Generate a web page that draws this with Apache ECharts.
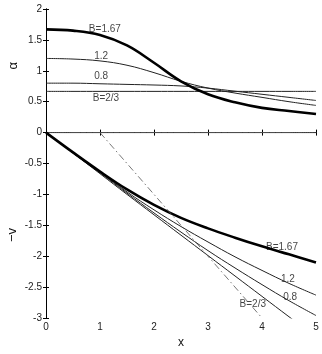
<!DOCTYPE html>
<html>
<head>
<meta charset="utf-8">
<script src="https://cdn.jsdelivr.net/npm/echarts@6/dist/echarts.min.js"></script>
<style>
  html, body { margin: 0; padding: 0; background: #fff; }
  #main { width: 322px; height: 354px; }
</style>
</head>
<body>
<div id="main"></div>
<script>
  // x positions
  var xs = [0, 0.5, 1, 1.5, 2, 2.5, 3, 3.5, 4, 4.5, 5];
  // alpha curves
  var alpha167 = [1.67, 1.65, 1.58, 1.41, 1.13, 0.83, 0.62, 0.49, 0.40, 0.35, 0.30];
  var alpha12 = [1.20, 1.19, 1.16, 1.09, 0.97, 0.83, 0.72, 0.64, 0.57, 0.50, 0.44];
  var alpha08 = [0.80, 0.80, 0.79, 0.78, 0.77, 0.755, 0.72, 0.67, 0.62, 0.57, 0.52];
  var alpha23 = [0.667, 0.667, 0.667, 0.667, 0.667, 0.667, 0.667, 0.667, 0.667, 0.667, 0.667];
  // -v curves
  var v167 = [0, -0.32, -0.63, -0.92, -1.17, -1.38, -1.55, -1.70, -1.84, -1.97, -2.10];
  var v12 = [0, -0.32, -0.64, -0.96, -1.25, -1.52, -1.77, -2.01, -2.23, -2.44, -2.63];
  var v08 = [0, -0.33, -0.65, -0.98, -1.30, -1.61, -1.91, -2.19, -2.46, -2.72, -2.96];
  var v23 = [0, -0.33, -0.665, -1.0, -1.33, -1.66, -1.99, -2.32, -2.65, -2.98, -3.31];
  var zeroLine = [0, 0, 0, 0, 0, 0, 0, 0, 0, 0, 0];
  // dash-dot reference line -v = 1 - x
  var refX = [1, 4];
  var refY = [0, -3];
  // curve labels
  var labelX = [1.09, 1.02, 1.02, 1.11, 4.37, 4.48, 4.52, 3.83];
  var labelY = [1.68, 1.24, 0.91, 0.56, -1.85, -2.37, -2.67, -2.78];
  var labelText = ['B=1.67', '1.2', '0.8', 'B=2/3', 'B=1.67', '1.2', '0.8', 'B=2/3'];

  function pairs(xv, yv) {
    return xv.map(function (x, i) { return [x, yv[i]]; });
  }

  var font = 'Liberation Sans';

  function curve(yv, thick, color) {
    return {
      type: 'line',
      data: pairs(xs, yv),
      smooth: 0.4,
      showSymbol: false,
      symbol: 'none',
      silent: true,
      lineStyle: { color: color || '#111', width: thick ? 2.6 : 1 }
    };
  }

  var chart = echarts.init(document.getElementById('main'));
  var axisX = {
    type: 'value', min: 0, max: 5, interval: 1,
    axisLine: { show: true, lineStyle: { color: '#000', width: 1 } },
    axisTick: { show: true, inside: true, length: 3, lineStyle: { color: '#000' } },
    splitLine: { show: false }
  };
  var axisY = {
    type: 'value', min: -3, max: 2, interval: 0.5,
    axisLine: { show: true, lineStyle: { color: '#000', width: 1 } },
    axisTick: { show: true, inside: true, length: 3, lineStyle: { color: '#000' } },
    splitLine: { show: false }
  };

  var option = {
    animation: false,
    grid: { left: 46, right: 6, top: 9, bottom: 28 },
    xAxis: [
      Object.assign({}, axisX, {
        position: 'bottom',
        name: 'x', nameLocation: 'middle', nameGap: 19,
        nameTextStyle: { fontFamily: font, fontSize: 12, color: '#111' },
        axisLabel: { fontFamily: font, fontSize: 10, color: '#222', margin: 4 }
      }),
      Object.assign({}, axisX, { position: 'top', axisLabel: { show: false } })
    ],
    yAxis: [
      Object.assign({}, axisY, {
        position: 'left',
        axisLabel: { fontFamily: font, fontSize: 10, color: '#222', margin: 4 }
      }),
      Object.assign({}, axisY, { position: 'right', axisLabel: { show: false } })
    ],
    graphic: [
      { type: 'text', left: 7, top: 62, rotation: Math.PI / 2,
        style: { text: 'α', font: '13px ' + font, fill: '#111' } },
      { type: 'text', left: 6, top: 228, rotation: Math.PI / 2,
        style: { text: '−v', font: '13px ' + font, fill: '#111' } }
    ],
    series: [
      curve(zeroLine, false, '#555'),
      curve(alpha23, false, '#222'),
      curve(alpha08, false, '#222'),
      curve(alpha12, false, '#222'),
      curve(alpha167, true, '#000'),
      curve(v23, false, '#222'),
      curve(v08, false, '#222'),
      curve(v12, false, '#222'),
      curve(v167, true, '#000'),
      {
        type: 'line',
        data: pairs(refX, refY),
        showSymbol: false,
        symbol: 'none',
        lineStyle: { color: '#555', width: 0.8, type: [7, 3, 1.5, 3] }
      },
      {
        type: 'scatter',
        symbolSize: 0,
        silent: true,
        data: labelX.map(function (x, i) { return { value: [x, labelY[i]], name: labelText[i] }; }),
        label: {
          show: true, position: 'inside', formatter: '{b}',
          fontFamily: font, fontSize: 10, color: '#111'
        }
      }
    ]
  };
  chart.setOption(option);
</script>
</body>
</html>
